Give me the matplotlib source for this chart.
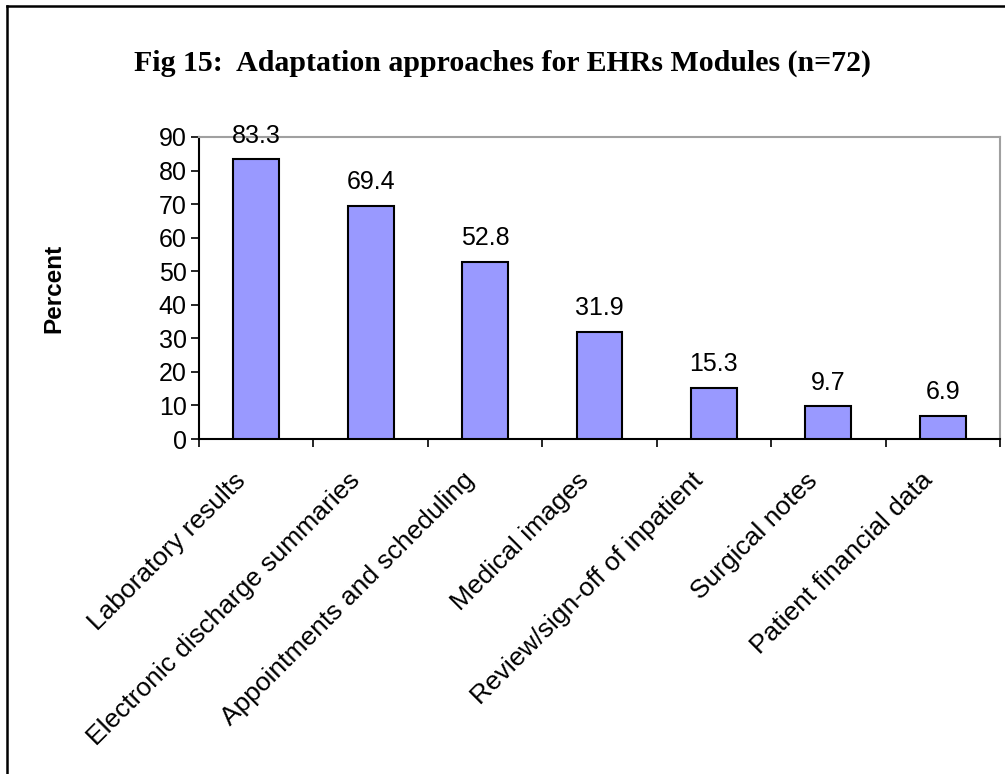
import matplotlib
matplotlib.use("Agg")
import matplotlib.pyplot as plt
from matplotlib.lines import Line2D

categories = ["Laboratory results", "Electronic discharge summaries",
              "Appointments and scheduling", "Medical images",
              "Review/sign-off of inpatient", "Surgical notes",
              "Patient financial data"]
values = [83.3, 69.4, 52.8, 31.9, 15.3, 9.7, 6.9]
yticks = [0, 10, 20, 30, 40, 50, 60, 70, 80, 90]
title = "Fig 15:  Adaptation approaches for EHRs Modules (n=72)"
ylabel = "Percent"

W, H = 1005, 774
fig = plt.figure(figsize=(W / 100, H / 100), dpi=100)
ax = fig.add_axes([199 / W, 1 - 439 / H, 801 / W, 302 / H])

x = list(range(len(categories)))
ax.bar(x, values, width=0.4, color="#9999FF", edgecolor="black", linewidth=1.5, zorder=3)
for xi, v in zip(x, values):
    ax.text(xi, v + 5, f"{v}", ha="center", va="baseline", fontsize=18,
            family="Liberation Sans")

ax.set_xlim(-0.5, len(categories) - 0.5)
ax.set_ylim(0, 90)
ax.set_yticks(yticks)
ax.set_yticklabels([str(t) for t in yticks], fontsize=18, family="Liberation Sans")
ax.set_xticks([i - 0.5 for i in range(len(categories) + 1)])
ax.set_xticklabels([])
ax.tick_params(axis="x", length=6, width=1.2, direction="out")
ax.tick_params(axis="y", length=6, width=1.2, direction="out", pad=3)
for xi, c in zip(x, categories):
    ax.text(xi - 0.2, -8.7, c, rotation=45, ha="right", va="top",
            rotation_mode="anchor", fontsize=19, family="Liberation Sans")

ax.spines["left"].set_linewidth(1.5)
ax.spines["bottom"].set_linewidth(1.5)
ax.spines["top"].set_color("#A0A0A0")
ax.spines["right"].set_color("#A0A0A0")
ax.spines["top"].set_linewidth(1.5)
ax.spines["right"].set_linewidth(1.5)

fig.text(54 / W, 1 - 288 / H, ylabel, rotation=90, ha="center", va="center",
         fontsize=17.5, fontweight="bold", family="Liberation Sans")

fig.text(0.5, 1 - 71 / H, title, ha="center", va="baseline", fontsize=21.5,
         fontweight="bold", family="Liberation Serif")

fig.add_artist(Line2D([7 / W, 1], [1 - 6 / H, 1 - 6 / H], transform=fig.transFigure,
                      color="black", linewidth=1.8))
fig.add_artist(Line2D([7 / W, 7 / W], [0, 1 - 6 / H], transform=fig.transFigure,
                      color="black", linewidth=1.8))

fig.savefig("out.png", dpi=100)
